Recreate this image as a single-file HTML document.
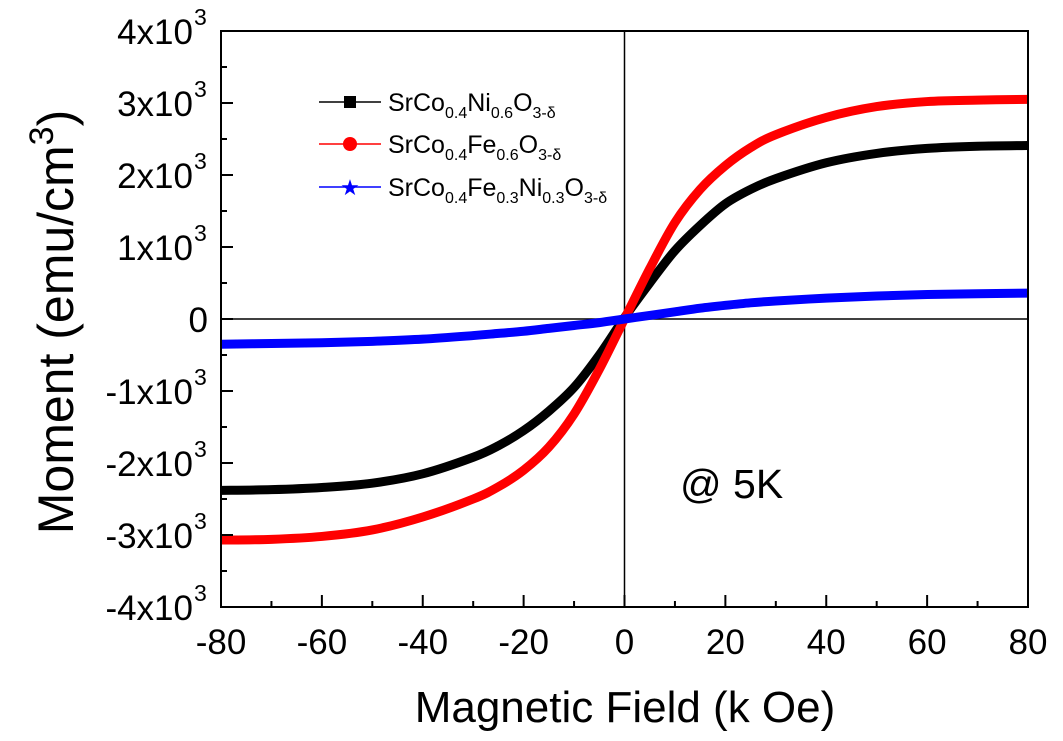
<!DOCTYPE html>
<html><head><meta charset="utf-8"><style>
body{margin:0;background:#fff;}
svg{display:block;font-family:"Liberation Sans",Arial,sans-serif;}
</style></head><body>
<svg id="c" width="1063" height="741" viewBox="0 0 1063 741">
<g id="plot"></g>
<text x="625" y="722" font-size="44" text-anchor="middle">Magnetic Field (k Oe)</text>
<text transform="translate(73,322) rotate(-90)" font-size="50" text-anchor="middle">Moment (emu/cm<tspan font-size="34" dy="-20">3</tspan><tspan dy="20">)</tspan></text>
<text x="680" y="498" font-size="41">@ 5K</text>
<g font-size="25">
 <g>
  <line x1="319" y1="102" x2="381" y2="102" stroke="#000" stroke-width="1.5"/>
  <rect x="344" y="96" width="12" height="12" fill="#000"/>
  <text x="388" y="111">SrCo<tspan font-size="16" dy="7">0.4</tspan><tspan dy="-7">Ni</tspan><tspan font-size="16" dy="7">0.6</tspan><tspan dy="-7">O</tspan><tspan font-size="16" dy="7">3-δ</tspan></text>
 </g>
 <g>
  <line x1="319" y1="144" x2="381" y2="144" stroke="#f00" stroke-width="1.5"/>
  <circle cx="350" cy="144" r="7" fill="#f00"/>
  <text x="388" y="153">SrCo<tspan font-size="16" dy="7">0.4</tspan><tspan dy="-7">Fe</tspan><tspan font-size="16" dy="7">0.6</tspan><tspan dy="-7">O</tspan><tspan font-size="16" dy="7">3-δ</tspan></text>
 </g>
 <g>
  <line x1="319" y1="187" x2="381" y2="187" stroke="#00f" stroke-width="1.5"/>
  <text x="350" y="195" font-size="22" fill="#00f" text-anchor="middle">★</text>
  <text x="388" y="196">SrCo<tspan font-size="16" dy="7">0.4</tspan><tspan dy="-7">Fe</tspan><tspan font-size="16" dy="7">0.3</tspan><tspan dy="-7">Ni</tspan><tspan font-size="16" dy="7">0.3</tspan><tspan dy="-7">O</tspan><tspan font-size="16" dy="7">3-δ</tspan></text>
 </g>
</g>
</svg>
<script>
const fields=[-80,-70,-60,-50,-40,-30,-25,-20,-15,-10,-5,0,5,10,15,20,25,30,40,50,60,70,80];
const blackSeries=[-2380,-2370,-2340,-2280,-2150,-1920,-1760,-1550,-1280,-950,-500,20,500,950,1300,1600,1800,1950,2170,2300,2370,2400,2410];
const redSeries=[-3070,-3060,-3020,-2930,-2750,-2500,-2330,-2100,-1780,-1320,-700,0,700,1340,1800,2130,2380,2560,2800,2950,3020,3040,3050];
const blueSeries=[-350,-340,-330,-310,-280,-230,-200,-170,-130,-90,-50,0,50,100,150,190,225,250,290,320,340,350,360];
const xTicks=[-80,-60,-40,-20,0,20,40,60,80];
const yTickVals=[4000,3000,2000,1000,0,-1000,-2000,-3000,-4000];
const yTickLabels=["4x10","3x10","2x10","1x10","0","-1x10","-2x10","-3x10","-4x10"];

const L=221,R=1028,T=31,B=607;
const xs=v=>L+(v+80)/160*(R-L);
const ys=v=>B-(v+4000)/8000*(B-T);
const NS="http://www.w3.org/2000/svg";
const g=document.getElementById('plot');
function mk(tag,attrs,parent){const e=document.createElementNS(NS,tag);for(const k in attrs)e.setAttribute(k,attrs[k]);(parent||g).appendChild(e);return e;}

let e=mk('line',{x1:xs(0),x2:xs(0),y1:T,y2:B,stroke:'#000','stroke-width':1.5});


e=mk('line',{x1:L,x2:R,y1:ys(0),y2:ys(0),stroke:'#000','stroke-width':1.5});



function smooth(xv,yv){
  const p=xv.map((x,i)=>[xs(x),ys(yv[i])]);
  let d=`M${p[0][0]},${p[0][1]}`;
  for(let i=0;i<p.length-1;i++){
    const p0=p[Math.max(0,i-1)],p1=p[i],p2=p[i+1],p3=p[Math.min(p.length-1,i+2)];
    const c1=[p1[0]+(p2[0]-p0[0])/6,p1[1]+(p2[1]-p0[1])/6];
    const c2=[p2[0]-(p3[0]-p1[0])/6,p2[1]-(p3[1]-p1[1])/6];
    d+=`C${c1[0]},${c1[1]} ${c2[0]},${c2[1]} ${p2[0]},${p2[1]}`;
  }
  return d;
}
[[blackSeries,'#000','series-srco-ni'],[redSeries,'#f00','series-srco-fe'],[blueSeries,'#00f','series-srco-fe-ni']].forEach(([s,c,n])=>{
  const p=mk('path',{d:smooth(fields,s),fill:'none',stroke:c,'stroke-width':9,'stroke-linejoin':'round'});
  
  
});

e=mk('rect',{x:L,y:T,width:R-L,height:B-T,fill:'none',stroke:'#000','stroke-width':2});



for(let v=-80;v<=80;v+=10){
  const major=v%20===0;
  const t=mk('line',{x1:xs(v),x2:xs(v),y1:B,y2:B-(major?12:6),stroke:'#000','stroke-width':2});
  
  
}
xTicks.forEach(v=>{
  const t=mk('text',{x:xs(v),y:654,'font-size':35,'text-anchor':'middle'});
  t.textContent=v;
  
  
});
for(let v=-4000;v<=4000;v+=500){
  const major=v%1000===0;
  const t=mk('line',{x1:L,x2:L+(major?12:6),y1:ys(v),y2:ys(v),stroke:'#000','stroke-width':2});
  
  
}
yTickVals.forEach((v,i)=>{
  const lab=yTickLabels[i];
  const t=mk('text',{x:v===0?208:193,y:ys(v)+13,'font-size':35,'text-anchor':'end'});
  t.textContent=lab;
  
  
  if(v!==0){
    const s=mk('text',{x:194,y:ys(v)-6,'font-size':23});
    s.textContent='3';
    
    
  }
});
</script>
</body></html>
